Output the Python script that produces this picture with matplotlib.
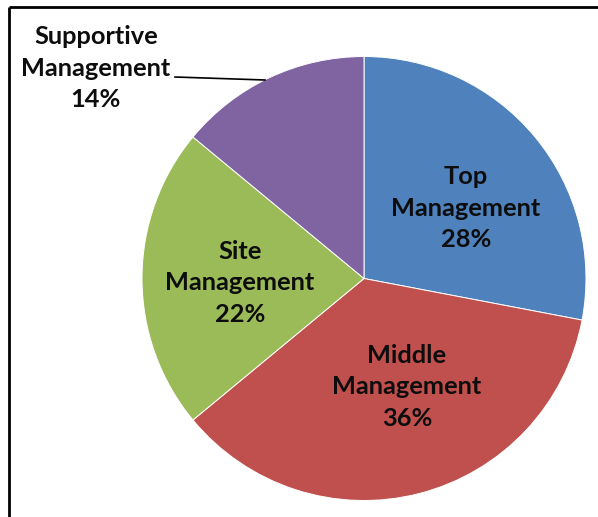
import matplotlib
matplotlib.use('Agg')
import matplotlib.pyplot as plt

# Datos del gráfico
categorias = ['Top\nManagement', 'Middle\nManagement', 'Site\nManagement', 'Supportive\nManagement']
porcentajes = [28, 36, 22, 14]
colores = ['#4F81BD', '#C0504D', '#9BBB59', '#8064A2']

W, H = 598, 517
fig = plt.figure(figsize=(W / 100, H / 100), dpi=100)
ax = fig.add_axes([0, 0, 1, 1])

cx, cy, r = 364, H - 278.5, 222
ax.pie(porcentajes, colors=colores, startangle=90, counterclock=False,
       center=(cx, cy), radius=r, frame=True,
       wedgeprops=dict(edgecolor='white', linewidth=0.7))
ax.set_xlim(0, W)
ax.set_ylim(0, H)
ax.set_aspect('equal')
ax.axis('off')

# Posiciones de las etiquetas (píxeles)
pos_etiquetas = [(466, 208), (407, 387), (240, 283), (96, 68)]
for cat, pct, (px, py) in zip(categorias, porcentajes, pos_etiquetas):
    ax.text(px, H - py, f'{cat}\n{pct}%', ha='center', va='center',
            fontsize=18.3, fontweight='bold', family='Lato',
            linespacing=1.43, color='#0d0d0d')

# Línea guía de "Supportive Management"
ax.plot([175, 265], [H - 77, H - 80], color='black', linewidth=1.2)

# Marco (solo arriba e izquierda, recortado)
ax.plot([8.5, W], [H - 6.7, H - 6.7], color='black', linewidth=2, solid_capstyle='butt')
ax.plot([8.5, 8.5], [0, H - 6.7], color='black', linewidth=2, solid_capstyle='butt')

fig.savefig('out.png', dpi=100)
